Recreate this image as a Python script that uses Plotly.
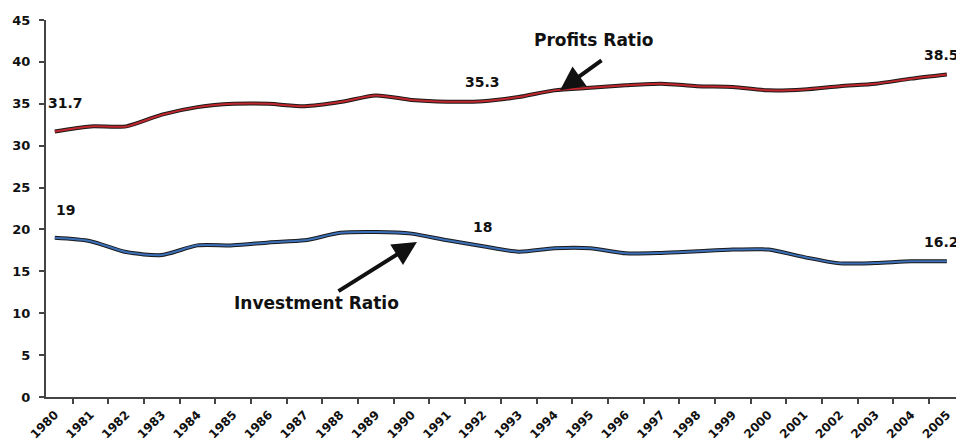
import plotly.graph_objects as go

years = [str(y) for y in range(1980, 2006)]
profits_ratio = [31.7, 32.3, 32.3, 33.7, 34.6, 35.0, 35.0, 34.7, 35.2, 36.0, 35.45, 35.25, 35.3,
                 35.8, 36.6, 36.9, 37.2, 37.4, 37.1, 37.0, 36.6, 36.7, 37.1, 37.4, 38.0, 38.5]
investment_ratio = [19.0, 18.6, 17.3, 16.95, 18.1, 18.1, 18.45, 18.7, 19.6, 19.7, 19.5, 18.7, 18.0,
                    17.35, 17.75, 17.75, 17.15, 17.2, 17.4, 17.6, 17.6, 16.7, 15.95, 16.0, 16.2, 16.2]
y_ticks = [0, 5, 10, 15, 20, 25, 30, 35, 40, 45]

FONT = "DejaVu Sans"
fig = go.Figure()

for vals, col in [(profits_ratio, "#C1272D"), (investment_ratio, "#3B70B8")]:
    fig.add_trace(go.Scatter(x=years, y=vals, mode="lines",
                             line=dict(color="#1a1a1a", width=4, shape="spline", smoothing=0.7),
                             hoverinfo="skip", showlegend=False))
    fig.add_trace(go.Scatter(x=years, y=vals, mode="lines",
                             line=dict(color=col, width=2, shape="spline", smoothing=0.7),
                             showlegend=False))

labels = [
    (0.3, 35.1, "31.7"), (0.3, 22.3, "19"),
    (12.0, 37.6, "35.3"), (12.0, 20.3, "18"),
    (24.85, 40.8, "38.5"), (24.85, 18.5, "16.2"),
]
for x, y, t in labels:
    fig.add_annotation(x=x, y=y, text="<b>" + t + "</b>", showarrow=False,
                       font=dict(family=FONT, size=14, color="#111"))

fig.add_annotation(x=15.1, y=42.6, text="<b>Profits Ratio</b>", showarrow=False,
                   font=dict(family=FONT, size=17, color="#111"))
fig.add_annotation(x=7.34, y=11.2, text="<b>Investment Ratio</b>", showarrow=False,
                   font=dict(family=FONT, size=17, color="#111"))

# arrows
fig.add_annotation(x=14.16, y=36.6, ax=43, ay=-31, text="", showarrow=True,
                   arrowhead=2, arrowsize=1.2, arrowwidth=4, arrowcolor="#111")
fig.add_annotation(x=10.15, y=18.5, ax=-80, ay=50, text="", showarrow=True,
                   arrowhead=2, arrowsize=1.2, arrowwidth=4, arrowcolor="#111")

# page body has an 8px margin: compensate so the plot area lands where the reference has it
fig.update_layout(
    width=956, height=432,
    margin=dict(l=38, r=3, t=12, b=43),
    plot_bgcolor="white", paper_bgcolor="white",
    font=dict(family=FONT, color="#111"),
)
fig.update_xaxes(type="category", tickson="boundaries", ticks="outside", ticklen=5,
                 tickcolor="#444", tickwidth=2, showline=True, linecolor="#444", linewidth=2,
                 showgrid=False, tickangle=-45, automargin=False, ticklabelstandoff=4,
                 tickfont=dict(family=FONT, size=12, color="#111", weight="bold"))
fig.update_yaxes(range=[0, 45], tickvals=y_ticks, ticks="outside", ticklen=5,
                 tickcolor="#444", tickwidth=2, showline=True, linecolor="#444", linewidth=2,
                 showgrid=False, zeroline=False, automargin=False, ticklabelstandoff=6,
                 tickfont=dict(family=FONT, size=13, color="#111", weight="bold"))

fig.write_html("out.html")
